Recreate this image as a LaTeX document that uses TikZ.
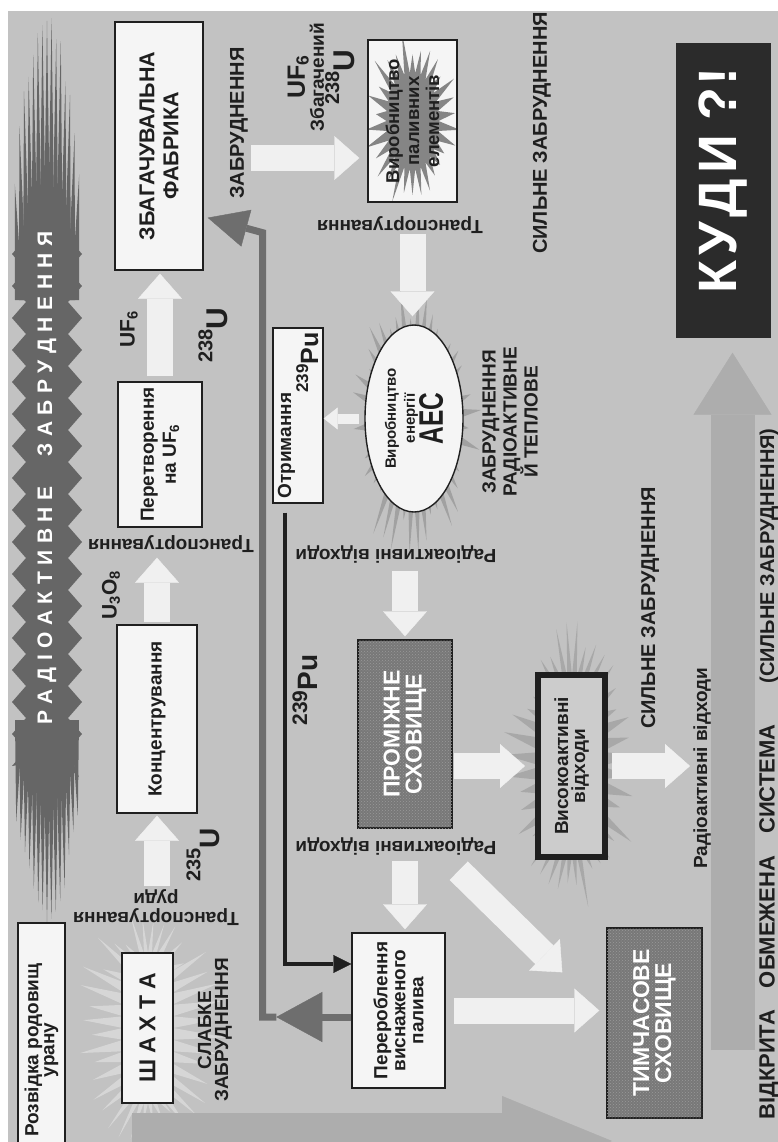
\documentclass[tikz,border=0pt]{standalone}
\usepackage{fontspec}
\setmainfont{Liberation Sans}
\usetikzlibrary{arrows.meta,calc,shapes.geometric,decorations.pathmorphing,patterns}
\definecolor{bgcol}{gray}{0.76}
\definecolor{ink}{gray}{0.12}
\definecolor{boxwhite}{gray}{0.96}
\definecolor{band}{gray}{0.40}
\definecolor{storegray}{gray}{0.47}
\definecolor{highfill}{gray}{0.80}
\definecolor{kudyfill}{gray}{0.17}
\definecolor{arrowwhite}{gray}{0.94}
\definecolor{bigarrow}{gray}{0.68}
\definecolor{recline}{gray}{0.43}
\definecolor{rayaec}{gray}{0.63}
\definecolor{rayhigh}{gray}{0.66}
\definecolor{rayfuel}{gray}{0.52}
\definecolor{raymine}{gray}{0.84}

\newcommand{\lsp}{\hspace{6.5pt}}
\newcommand{\iso}[5]{{\fontsize{#3}{#3}\selectfont\raisebox{#5}{#1}}{\fontsize{#4}{#4}\selectfont #2}}
% starburst: colour, centre x, centre y, outer radii, inner radii, spikes
\newcommand{\burst}[8]{%
  \fill[#1] ({#2+#6},{#3})
    \foreach \k [evaluate=\k as \f using 0.7+0.3*rnd] in {1,...,#8} {
      -- ({#2+#4*\f*cos(((\k-0.5)/#8)*360)},{#3+#5*\f*sin(((\k-0.5)/#8)*360)})
      -- ({#2+#6*cos((\k/#8)*360)},{#3+#7*sin((\k/#8)*360)})
    } -- cycle;}

\begin{document}
\begin{tikzpicture}[x=1pt,y=-1pt,
  box/.style={draw=ink,fill=boxwhite,line width=1.4pt,rotate=90,inner sep=2pt,align=center,text=ink,font=\bfseries\fontsize{19}{18}\selectfont},
  store/.style={box,fill=storegray,text=white,font=\bfseries\fontsize{23}{22}\selectfont,
    postaction={pattern=crosshatch dots,pattern color=storegray!75!white}},
  txt/.style={text=ink,align=center,inner sep=0pt,font=\bfseries\fontsize{19}{19}\selectfont},
  lbl/.style={txt,rotate=90},
  flip/.style={txt,rotate=180},
  fat/.style={draw=arrowwhite,line width=26pt,-{Triangle[length=25pt,width=44pt,line width=0.4pt]}},
  recyc/.style={draw=recline,line width=7pt},
  puline/.style={draw=ink,line width=3.5pt},
  bigarr/.style={draw=bigarrow,line width=44pt,-{Triangle[length=62pt,width=78pt,line width=0.4pt]}}]

  \useasboundingbox (0,0) rectangle (778,1142);
  \fill[white] (0,0) rectangle (778,1142);
  \fill[bgcol] (8,11) rectangle (778,1142);
  \pgfmathsetseed{7}

  % banner
  \fill[band,decorate,decoration={zigzag,segment length=32pt,amplitude=7pt}] (19,230) rectangle (75,770);
  \foreach \i in {0,...,14} {
    \pgfmathsetmacro{\bx}{19+4*\i}
    \pgfmathsetmacro{\tipt}{12+150*((\i-7)/7)*((\i-7)/7)+25*rnd}
    \pgfmathsetmacro{\tipb}{925-100*((\i-7)/7)*((\i-7)/7)-25*rnd}
    \fill[band] (\bx-4,300) -- (\bx+4,300) -- ({47+(\bx-47)*1.15},\tipt) -- cycle;
    \fill[band] (\bx-4,720) -- (\bx+4,720) -- ({47+(\bx-47)*1.1},\tipb) -- cycle;
  }

  % rays
  \burst{raymine}{148}{1028}{78}{120}{25}{75}{40}
  \burst{rayaec}{414}{420}{68}{142}{40}{80}{44}
  \burst{rayhigh}{572}{766}{72}{150}{30}{90}{40}

  % open system flows
  \coordinate (flowin) at (132,1141);
  \coordinate (flowout) at (612,1141);
  \draw[bigarr,line width=56pt,-{Triangle[length=110pt,width=90pt,line width=0.4pt]}] (flowin) -- (flowout);
  \node[box,draw=none,fill=kudyfill,text=white,minimum width=295pt,minimum height=95pt,font=\bfseries\fontsize{54}{54}\selectfont] (kudy) at (723.5,190.5) {\hspace*{20pt}К\hspace{5pt}У\hspace{5pt}Д\hspace{5pt}И ?\hspace{2pt}!};
  \coordinate (sysin) at (732.5,1050);
  \draw[bigarr,shorten >=14pt] (sysin) -- (sysin |- kudy.west);

  % fuel elements
  \fill[boxwhite] (368,40) rectangle (457,202);
  \begin{scope}
    \clip (368,40) rectangle (457,202);
    \burst{rayfuel}{412.5}{121}{52}{92}{26}{48}{30}
  \end{scope}
  \node[box,fill=none,minimum width=162pt,minimum height=89pt,font=\bfseries\fontsize{18.5}{20}\selectfont] (fuel) at (412.5,121) {Виробництво\\паливних\\елементів};

  % boxes
  \node[box,minimum width=248pt,minimum height=88pt,font=\bfseries\fontsize{21.5}{24}\selectfont] (fab) at (159,146) {ЗБАГАЧУВАЛЬНА\\ФАБРИКА};
  \node[box,minimum width=145pt,minimum height=84pt,font=\bfseries\fontsize{19}{22}\selectfont] (conv) at (160,454.5) {Перетворення\\на UF\textsubscript{6}};
  \node[box,minimum width=188pt,minimum height=80pt] (conc) at (157,719) {Концентрування};
  \node[box,minimum width=150pt,minimum height=51pt,font=\bfseries\fontsize{23}{23}\selectfont] (mine) at (147.5,1028) {Ш\hspace{6pt}А\hspace{6pt}Х\hspace{6pt}Т\hspace{6pt}А};
  \node[box,minimum width=254pt,minimum height=47pt,font=\bfseries\fontsize{19}{16}\selectfont] (explore) at (41.5,1050) {Розвідка родовищ\\урану};
  \node[box,ellipse,minimum width=187pt,minimum height=98pt,inner sep=0pt,font=\bfseries\fontsize{15}{19}\selectfont] (aec) at (414,418.5) {Виробництво\\енергії\\{\fontsize{34}{28}\selectfont\scalebox{0.72}[1]{АЕС}}};
  \node[box,minimum width=175pt,minimum height=50pt,text width=166pt,align=left,font=\bfseries\fontsize{19}{27}\selectfont] (pu) at (298,415.5) {Отримання\\\mbox{}\hfill\iso{239}{Pu}{17}{25}{10pt}};
  \node[store,minimum width=188pt,minimum height=94pt] (prom) at (405,734) {ПРОМІЖНЕ\\СХОВИЩЕ};
  \node[box,minimum width=155pt,minimum height=93pt] (rec) at (398.5,1010.5) {Перероблення\\виснаженого\\палива};
  \node[box,line width=6pt,fill=highfill,minimum width=182pt,minimum height=67pt,font=\bfseries\fontsize{19}{17}\selectfont] (high) at (571.5,766) {Високоактивні\\відходи};
  \node[store,minimum width=190pt,minimum height=95pt] (tmp) at (654.5,1023) {ТИМЧАСОВЕ\\СХОВИЩЕ};

  % labels
  \node[lbl,text=white,font=\bfseries\fontsize{21}{21}\selectfont] (banner) at (47,478) {Р\lsp А\lsp Д\lsp І\lsp О\lsp А\lsp К\lsp Т\lsp И\lsp В\lsp Н\lsp Е\hspace{30pt}З\lsp А\lsp Б\lsp Р\lsp У\lsp Д\lsp Н\lsp Е\lsp Н\lsp Н\lsp Я};
  \node[lbl,font=\bfseries\fontsize{20}{20}\selectfont] (zab) at (239,123) {ЗАБРУДНЕННЯ};
  \node[lbl] (uf6e) at (321,77) {{\fontsize{25}{25}\selectfont UF\textsubscript{6}}\\Збагачений\\\iso{238}{U}{20}{30}{15pt}};
  \node[lbl,font=\bfseries\fontsize{21}{21}\selectfont] (uf6a) at (129,329) {UF\textsubscript{6}};
  \node[lbl] (u238) at (213,335) {\iso{238}{U}{20}{30}{15pt}};
  \node[lbl] (u235) at (203,855) {\iso{235}{U}{20}{28}{19pt}};
  \node[lbl,font=\bfseries\fontsize{21}{21}\selectfont] (u3o8) at (111,595) {U\textsubscript{3}O\textsubscript{8}};
  \node[lbl] (pu239) at (305,690) {\iso{239}{Pu}{21}{28}{10pt}};
  \node[flip] (tr1) at (156,908) {Транспортування\\руди};
  \node[flip] (tr2) at (171,544) {Транспортування};
  \node[flip] (tr3) at (400,225) {Транспортування};
  \node[flip] (rw1) at (396,554) {Радіоактивні відходи};
  \node[flip] (rw2) at (396,846) {Радіоактивні відходи};
  \node[lbl] (rw3) at (702,768) {Радіоактивні відходи};
  \node[lbl,font=\bfseries\fontsize{19}{17}\selectfont] (weak) at (215,1030) {СЛАБКЕ\\ЗАБРУДНЕННЯ};
  \node[lbl,font=\bfseries\fontsize{19}{21}\selectfont] (heat) at (510,422) {ЗАБРУДНЕННЯ\\РАДІОАКТИВНЕ\\Й ТЕПЛОВЕ};
  \node[lbl,font=\bfseries\fontsize{20}{20}\selectfont] (strong1) at (542,133) {СИЛЬНЕ ЗАБРУДНЕННЯ};
  \node[lbl,font=\bfseries\fontsize{20}{20}\selectfont] (strong2) at (650,608) {СИЛЬНЕ ЗАБРУДНЕННЯ};
  \node[lbl,font=\bfseries\fontsize{22}{22}\selectfont] (opensys) at (769,922) {ВІДКРИТА\quad ОБМЕЖЕНА\quad СИСТЕМА};
  \node[lbl,font=\bfseries\fontsize{20}{20}\selectfont] (strong3) at (769,556) {(СИЛЬНЕ ЗАБРУДНЕННЯ)};

  % white arrows
  \draw[fat,shorten <=66pt,shorten >=2pt] (mine.east -| conc.west) -- (conc.west);
  \draw[fat,shorten <=2pt,shorten >=30pt] (conc.east) -- (conc.east |- conv.west);
  \draw[fat,shorten <=5pt,shorten >=3pt] (conv.east) -- (conv.east |- fab.west);
  \coordinate (fabout) at ($(fab.south)+(0,12)$);
  \draw[fat,shorten <=47pt,shorten >=8pt] (fabout) -- (fabout -| fuel.north);
  \draw[fat,shorten <=31pt,shorten >=8pt] (fuel.west) -- (fuel.west |- aec.east);
  \draw[fat,line width=10pt,-{Triangle[length=14pt,width=22pt,line width=0.4pt]},shorten <=5pt] (aec.north) -- (aec.north -| pu.south);
  \draw[fat,shorten <=58pt,shorten >=3pt] (prom.east |- aec.west) -- (prom.east);
  \draw[fat,shorten <=32pt,shorten >=3pt] (prom.west) -- (prom.west |- rec.east);
  \draw[fat,shorten <=1pt,shorten >=10pt] (prom.south |- high.north) -- (high.north);
  \draw[fat,shorten <=4pt,shorten >=3pt] (high.south) -- (high.south -| rw3.north);
  \draw[fat,shorten <=8pt,shorten >=7pt] (rec.south) -- (rec.south -| tmp.north);
  \coordinate (promout) at ($(prom.south west)+(6,42)$);
  \coordinate (tmpin) at ($(tmp.north east)+(-44,45)$);
  \draw[fat] (promout) -- (tmpin);

  % recycling back to enrichment
  \coordinate (recback) at ($(rec.north)+(-75,6.5)$);
  \coordinate (fabin) at ($(fab.south west)+(4,-53)$);
  \draw[recyc,-{Triangle[length=46pt,width=50pt,line width=0.4pt]}] ($(rec.north)+(0,6.5)$) -- (recback);
  \draw[recyc,-{Triangle[length=40pt,width=38pt,line width=0.4pt]}] (recback) -| ($(fabin)+(55,15)$) -- (fabin);

  % plutonium line
  \draw[puline,-{Triangle[length=18pt,width=18pt,line width=0.4pt]}] ($(pu.west)+(-13,9)$) |- ($(rec.north)+(0,-46.5)$);
\end{tikzpicture}
\end{document}
